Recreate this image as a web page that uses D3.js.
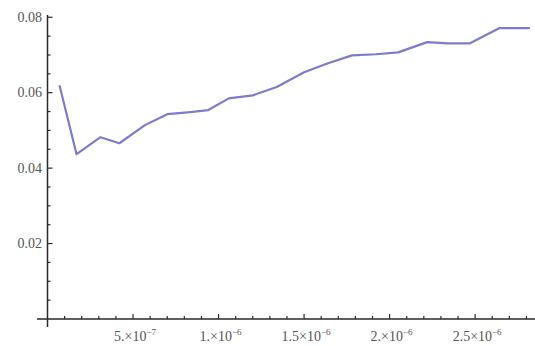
<!DOCTYPE html>
<html>
<head>
<meta charset="utf-8">
<script src="https://cdn.jsdelivr.net/npm/d3@7"></script>
<style>
  body { margin: 0; background: #fff; }
  .lab { font-family: "Liberation Serif"; fill: #555; }
</style>
</head>
<body>
<svg id="chart" width="535" height="346"></svg>
<script>
// data (x in units of 1e-7)
var xs = [0.7, 1.7, 3.1, 4.2, 5.7, 7.0, 8.2, 9.4, 10.6, 12.0, 13.4, 15.0, 16.4, 17.8, 19.2, 20.5, 22.2, 23.4, 24.7, 26.4, 28.2],
    ys = [0.0620, 0.0437, 0.0482, 0.0466, 0.0514, 0.0543, 0.0548, 0.0554, 0.0585, 0.0593, 0.0615,
          0.0654, 0.0678, 0.0699, 0.0702, 0.0707, 0.0734, 0.0731, 0.0731, 0.0771, 0.0771];

var yTicks = [0.02, 0.04, 0.06, 0.08],
    yLabels = ["0.02", "0.04", "0.06", "0.08"],
    xTicks = [5, 10, 15, 20, 25],
    xMant = ["5.", "1.", "1.5", "2.", "2.5"],
    xExp = ["\u22127", "\u22126", "\u22126", "\u22126", "\u22126"];

var svg = d3.select("#chart"),
    width = +svg.attr("width"),
    height = +svg.attr("height");

// origin at (47, 319)
var x = d3.scaleLinear().domain([0, 28.5]).range([47.5, 535]),
    y = d3.scaleLinear().domain([0, 0.0806]).range([319, 15]);

var axisColor = "#2a2a2a";

// minor ticks
var xMinor = d3.range(1, 29).filter(function(v) { return v % 5 != 0; }),
    yMinor = d3.range(1, 17).filter(function(v) { return v % 4 != 0; }).map(function(v) { return v * 0.005; });

var g = svg.append("g");

// x axis line (sticks out a bit left of the y axis)
g.append("line")
  .attr("x1", 37).attr("x2", width)
  .attr("y1", y(0)).attr("y2", y(0))
  .attr("stroke", axisColor).attr("stroke-width", 1.5);

// y axis line (sticks out a bit below)
g.append("line")
  .attr("x1", x(0)).attr("x2", x(0))
  .attr("y1", 327).attr("y2", y(0.0806))
  .attr("stroke", axisColor).attr("stroke-width", 1.5);

// ticks on x axis, pointing up
g.selectAll(".xmaj").data(xTicks).enter().append("line")
  .attr("x1", function(d) { return x(d); }).attr("x2", function(d) { return x(d); })
  .attr("y1", y(0)).attr("y2", y(0) - 5)
  .attr("stroke", axisColor).attr("stroke-width", 1.2);
g.selectAll(".xmin").data(xMinor).enter().append("line")
  .attr("x1", function(d) { return x(d); }).attr("x2", function(d) { return x(d); })
  .attr("y1", y(0)).attr("y2", y(0) - 3)
  .attr("stroke", axisColor).attr("stroke-width", 1.2);

// ticks on y axis, pointing right
g.selectAll(".ymaj").data(yTicks).enter().append("line")
  .attr("x1", x(0)).attr("x2", x(0) + 5)
  .attr("y1", function(d) { return y(d); }).attr("y2", function(d) { return y(d); })
  .attr("stroke", axisColor).attr("stroke-width", 1.2);
g.selectAll(".ymin").data(yMinor).enter().append("line")
  .attr("x1", x(0)).attr("x2", x(0) + 3)
  .attr("y1", function(d) { return y(d); }).attr("y2", function(d) { return y(d); })
  .attr("stroke", axisColor).attr("stroke-width", 1.2);

// y labels
g.selectAll(".ylab").data(yTicks).enter().append("text")
  .attr("class", "lab")
  .attr("x", 42)
  .attr("y", function(d) { return y(d) + 4.5; })
  .attr("text-anchor", "end")
  .attr("font-size", 14)
  .text(function(d, i) { return yLabels[i]; });

// x labels like 5.×10^-7
var xl = g.selectAll(".xlab").data(xTicks).enter().append("text")
  .attr("class", "lab")
  .attr("x", function(d) { return x(d) + 2; })
  .attr("y", 341)
  .attr("text-anchor", "middle")
  .attr("font-size", 14);
xl.append("tspan").text(function(d, i) { return xMant[i] + "\u00d710"; });
xl.append("tspan").attr("dy", -6).attr("font-size", 9)
  .text(function(d, i) { return xExp[i]; });

// the line
var line = d3.line()
  .x(function(d, i) { return x(xs[i]); })
  .y(function(d) { return y(d); });

svg.append("path")
  .datum(ys)
  .attr("d", line)
  .attr("fill", "none")
  .attr("stroke", "#7c7cca")
  .attr("stroke-width", 2.2)
  .attr("stroke-linejoin", "round");
</script>
</body>
</html>
